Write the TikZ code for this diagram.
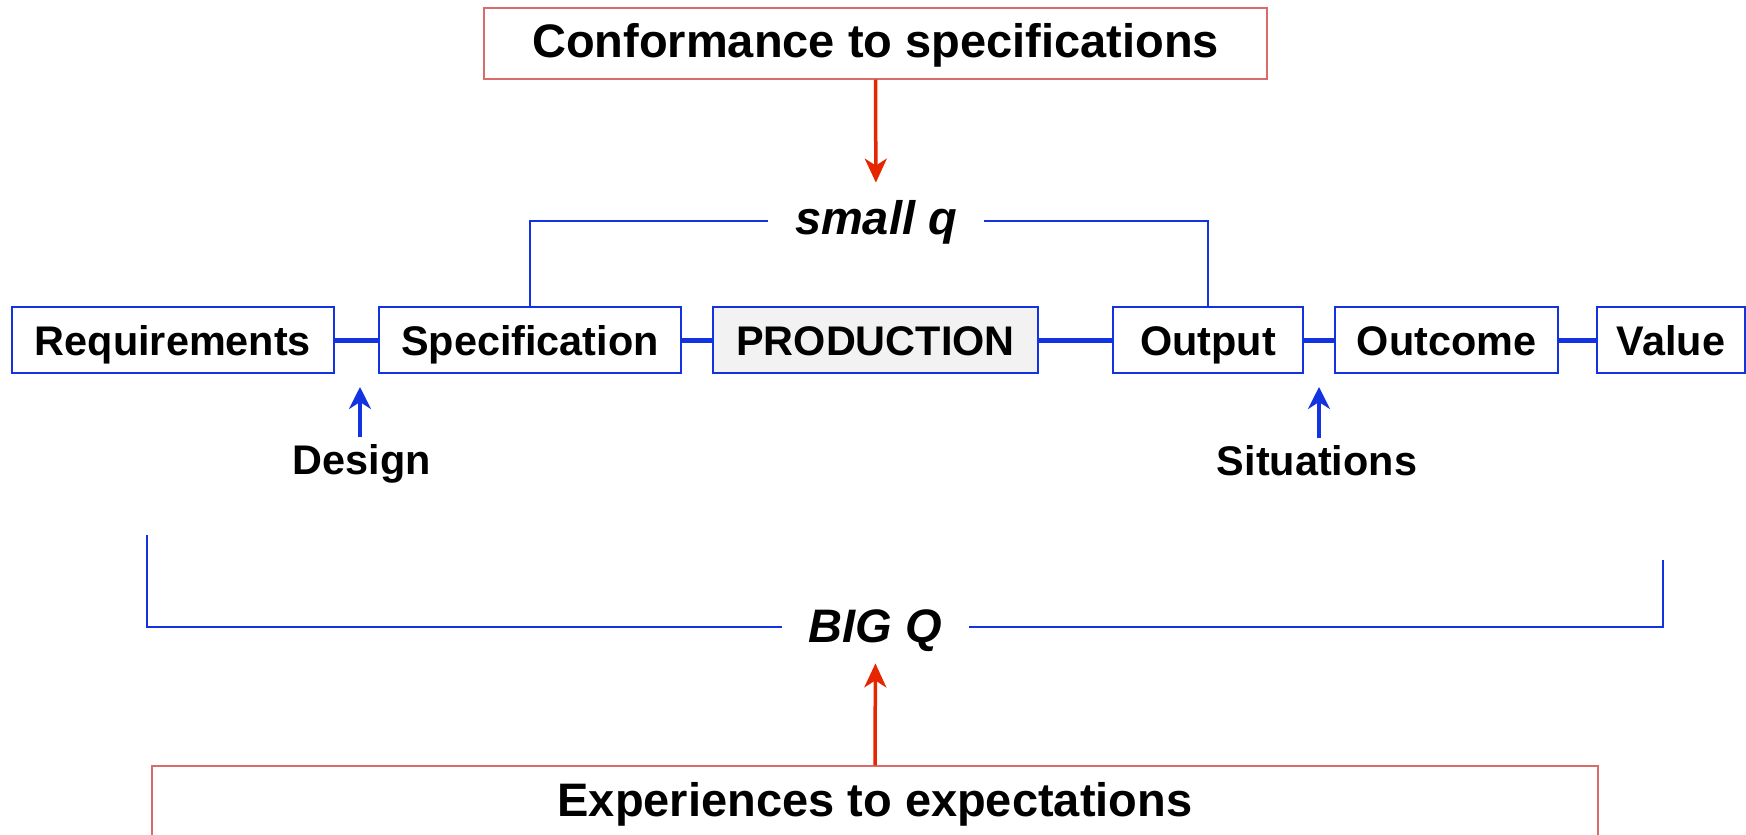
\documentclass[tikz,border=0pt]{standalone}
\usepackage{fontspec}
\setmainfont{Liberation Sans}
\usetikzlibrary{arrows.meta}

\newlength{\du}
\setlength{\du}{0.5pt}

\definecolor{boxblue}{rgb}{0.080000, 0.200000, 0.880000}
\definecolor{boxred}{rgb}{0.850000, 0.420000, 0.420000}
\definecolor{arrowred}{rgb}{0.900000, 0.150000, 0.000000}
\definecolor{prodgray}{rgb}{0.950000, 0.950000, 0.950000}

% arrow tips are given in pt (1\du = 0.5pt)
\tikzset{
  stagebox/.style={draw=boxblue, line width=1.4\du, fill=white, minimum height=66\du,
    inner sep=0pt, text height=15pt, text depth=0pt,
    font=\fontsize{20.7}{24}\selectfont\bfseries},
  notebox/.style={draw=boxred, line width=1.4\du, fill=white, inner sep=0pt,
    text height=13.5pt, text depth=0pt, font=\fontsize{23.5}{28}\selectfont\bfseries},
  qlabel/.style={inner sep=0pt, text depth=0pt, font=\fontsize{23.5}{28}\selectfont\bfseries\itshape},
  steplabel/.style={inner sep=0pt, anchor=base, font=\fontsize{20.7}{24}\selectfont\bfseries},
  link/.style={draw=boxblue, line width=5\du},
  bracket/.style={draw=boxblue, line width=1.5\du},
  bluearrow/.style={draw=boxblue, line width=1.75pt,
    -{Stealth[length=11pt, width=11pt, inset=3.5pt]}},
  redarrow/.style={draw=arrowred, line width=1.75pt,
    -{Stealth[length=12pt, width=11pt, inset=3.5pt]}},
}

\begin{document}
\begin{tikzpicture}
\pgftransformxscale{1.000000}
\pgftransformyscale{-1.000000}
\useasboundingbox (0\du,0\du) rectangle (1746\du,835\du);

% top note and small q
\node[notebox, minimum width=783\du, minimum height=71\du] (conform) at (875.5\du,43.5\du){Conformance to specifications};
\node[qlabel, text height=13pt, minimum width=216\du] (smallq) at (876\du,221\du){small q};

% chain of stages
\node[stagebox, minimum width=322\du] (req) at (173\du,340\du){Requirements};
\node[stagebox, minimum width=302\du] (spec) at (530\du,340\du){Specification};
\node[stagebox, minimum width=325\du, fill=prodgray] (prod) at (875.5\du,340\du){PRODUCTION};
\node[stagebox, minimum width=190\du] (outp) at (1208\du,340\du){Output};
\node[stagebox, minimum width=223\du] (outc) at (1446.5\du,340\du){Outcome};
\node[stagebox, minimum width=148\du] (val) at (1671\du,340\du){Value};

\draw[link] (req) -- (spec);
\draw[link] (spec) -- (prod);
\draw[link] (prod) -- (outp);
\draw[link] (outp) -- (outc);
\draw[link] (outc) -- (val);

% small q bracket
\draw[bracket] (spec.north) |- (smallq.west);
\draw[bracket] (outp.north) |- (smallq.east);
\draw[redarrow, shorten >=12.5pt] (conform.south) -- (smallq.north);

% design and situations
\node[steplabel] (design) at (362\du,474\du){Design};
\node[steplabel] (situ) at (1317\du,475\du){Situations};
\coordinate (designtip) at (360\du,387\du);
\coordinate (situtip) at (1319\du,387\du);
\draw[bluearrow, shorten <=3.5pt] (designtip |- design.north) -- (designtip);
\draw[bluearrow, shorten <=3.5pt] (situtip |- situ.north) -- (situtip);

% BIG Q bracket
\node[qlabel, text height=15pt, minimum width=187\du] (bigq) at (875.5\du,627\du){BIG Q};
\coordinate (bigleft) at (147\du,535\du);
\coordinate (bigright) at (1663\du,560\du);
\draw[bracket, line width=2.5\du] (bigleft) |- (bigq.west);
\draw[bracket, line width=2.5\du] (bigright) |- (bigq.east);

% bottom note
\node[notebox, minimum width=1446\du, minimum height=74\du] (expect) at (875\du,803\du){Experiences to expectations};
\draw[redarrow, shorten >=10.5pt] (expect.north) -- (bigq.south);
\end{tikzpicture}
\end{document}
